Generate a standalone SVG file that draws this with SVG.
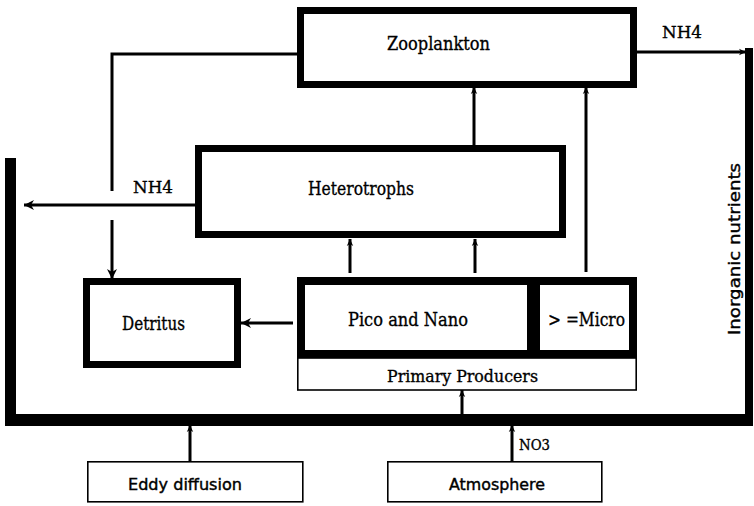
<svg xmlns="http://www.w3.org/2000/svg" width="754" height="506" viewBox="0 0 754 506">
<style>
.thick{fill:none;stroke:#000;stroke-width:7}
.thin{fill:#fff;stroke:#000;stroke-width:1.6}
.conn{fill:none;stroke:#000;stroke-width:3}
.serif{font-family:"DejaVu Serif","Liberation Serif",serif;fill:#000;stroke:#000;stroke-width:0.35}
.sans{font-family:"DejaVu Sans","Liberation Sans",sans-serif;fill:#000;stroke:#000;stroke-width:0.4}
</style>
<defs>
<marker id="big" markerUnits="userSpaceOnUse" markerWidth="11" markerHeight="11" refX="10" refY="5" orient="auto">
<path d="M0,0 L10,5 L0,10 L3,5 z" fill="#000"/>
</marker>
<marker id="small" markerUnits="userSpaceOnUse" markerWidth="8" markerHeight="8" refX="7" refY="4" orient="auto">
<path d="M0,0.8 L7,4 L0,7.2 L2,4 z" fill="#000"/>
</marker>
</defs>
<rect width="754" height="506" fill="#fff"/>

<g id="inorganic-nutrients">
<rect x="5" y="158" width="11" height="268" fill="#000"/>
<rect x="5" y="414" width="748" height="12" fill="#000"/>
<rect x="745" y="48" width="8" height="378" fill="#000"/>
<text class="sans" font-size="16" transform="translate(740,335) rotate(-90)" textLength="172" lengthAdjust="spacingAndGlyphs">Inorganic nutrients</text>
</g>

<g id="zooplankton">
<rect class="thick" x="300.5" y="10.5" width="333" height="74"/>
<text class="serif" x="387" y="50" font-size="19" textLength="103" lengthAdjust="spacingAndGlyphs">Zooplankton</text>
</g>

<g id="heterotrophs">
<rect class="thick" x="198.5" y="148.5" width="364" height="86"/>
<text class="serif" x="308" y="195" font-size="19" textLength="106" lengthAdjust="spacingAndGlyphs">Heterotrophs</text>
</g>

<g id="detritus">
<rect class="thick" x="86.5" y="281.5" width="151" height="83"/>
<text class="serif" x="122" y="330" font-size="19" textLength="63" lengthAdjust="spacingAndGlyphs">Detritus</text>
</g>

<g id="pico-and-nano">
<path d="M531,281 H301 V354 H531" fill="none" stroke="#000" stroke-width="8"/>
<rect x="527" y="277" width="13" height="81" fill="#000"/>
<text class="serif" x="348" y="326" font-size="19" textLength="120" lengthAdjust="spacingAndGlyphs">Pico and Nano</text>
</g>

<g id="micro">
<path d="M536,281 H633 V354 H536" fill="none" stroke="#000" stroke-width="8"/>
<text class="serif" x="548" y="326" font-size="19" textLength="77" lengthAdjust="spacingAndGlyphs">&gt; =Micro</text>
</g>

<g id="primary-producers">
<rect class="thin" x="297.8" y="358" width="338.4" height="32"/>
<text class="serif" x="387" y="382" font-size="17" textLength="151" lengthAdjust="spacingAndGlyphs">Primary Producers</text>
</g>

<g id="eddy-diffusion">
<rect class="thin" x="87.8" y="461.8" width="215" height="40"/>
<text class="sans" x="128" y="490" font-size="15" textLength="114" lengthAdjust="spacingAndGlyphs">Eddy diffusion</text>
</g>

<g id="atmosphere">
<rect class="thin" x="387.8" y="461.8" width="214" height="40"/>
<text class="sans" x="449" y="490" font-size="15" textLength="96" lengthAdjust="spacingAndGlyphs">Atmosphere</text>
</g>

<g id="connectors">
<polyline class="conn" points="297,54 112,54 112,191"/>
<line class="conn" x1="112" y1="220" x2="112" y2="279" marker-end="url(#big)"/>
<line class="conn" x1="195" y1="205" x2="24" y2="205" marker-end="url(#big)"/>
<text class="serif" x="133" y="193" font-size="17" textLength="40" lengthAdjust="spacingAndGlyphs">NH4</text>
<line class="conn" x1="637" y1="52" x2="746" y2="52" marker-end="url(#small)"/>
<text class="serif" x="662" y="38" font-size="17" textLength="40" lengthAdjust="spacingAndGlyphs">NH4</text>
<line class="conn" x1="474" y1="145" x2="474" y2="87" marker-end="url(#small)"/>
<line class="conn" x1="586" y1="272" x2="586" y2="87" marker-end="url(#small)"/>
<line class="conn" x1="350" y1="273" x2="350" y2="239" marker-end="url(#small)"/>
<line class="conn" x1="475" y1="273" x2="475" y2="239" marker-end="url(#small)"/>
<line class="conn" x1="293" y1="323" x2="241" y2="323" marker-end="url(#big)"/>
<line class="conn" x1="462" y1="414" x2="462" y2="390" marker-end="url(#small)"/>
<line class="conn" x1="190" y1="461" x2="190" y2="425" marker-end="url(#small)"/>
<line class="conn" x1="512" y1="461" x2="512" y2="425" marker-end="url(#small)"/>
<text class="serif" x="519" y="450" font-size="15" textLength="31" lengthAdjust="spacingAndGlyphs">NO3</text>
</g>
</svg>
